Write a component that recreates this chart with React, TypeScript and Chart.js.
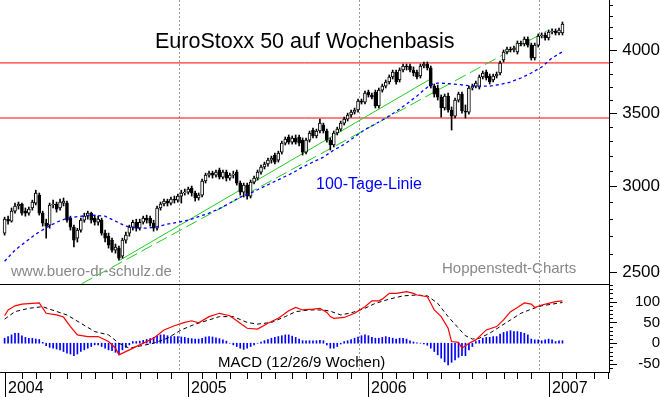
import React, { useEffect, useRef } from 'react';
import { Chart, registerables } from 'chart.js';

Chart.register(...registerables);

const FONT = '"Liberation Sans", Arial, Helvetica, sans-serif';
const FIRST_WEEK = Date.UTC(2003, 11, 29); // Monday of the first weekly candle
const DAY_MS = 86400000;

// ---- weekly candles (index 0 = week of 29 Dec 2003) ----
const opens = [
  2716, 2797, 2785, 2845, 2876, 2888, 2845, 2833, 2864, 2894,
  2943, 2833, 2774, 2762, 2882, 2888, 2864, 2894, 2894, 2803,
  2750, 2687, 2733, 2791, 2815, 2833, 2803, 2779, 2791, 2716,
  2698, 2676, 2620, 2631, 2587, 2676, 2716, 2750, 2779, 2744,
  2779, 2803, 2803, 2774, 2744, 2864, 2888, 2906, 2894, 2918,
  2912, 2937, 2956, 2962, 2987, 2956, 2925, 2943, 3032, 3070,
  3083, 3070, 3103, 3057, 3090, 3051, 3070, 3090, 3019, 2962,
  3006, 2937, 3025, 3051, 3090, 3123, 3143, 3169, 3203, 3169,
  3223, 3285, 3328, 3292, 3321, 3328, 3306, 3223, 3306, 3377,
  3335, 3370, 3413, 3370, 3306, 3272, 3356, 3384, 3427, 3456,
  3486, 3508, 3523, 3591, 3583, 3659, 3637, 3659, 3553, 3675,
  3706, 3738, 3778, 3818, 3754, 3834, 3867, 3867, 3834, 3818,
  3786, 3867, 3883, 3851, 3706, 3691, 3621, 3538, 3629, 3523,
  3478, 3598, 3644, 3516, 3508, 3691, 3706, 3698, 3778, 3818,
  3786, 3754, 3786, 3810, 3916, 3983, 4008, 4000, 3983, 4059,
  4051, 4094, 4042, 3933, 4042, 4120, 4129, 4103, 4155, 4164,
  4147, 4147,
];
const highs = [
  2809, 2815, 2864, 2894, 2900, 2894, 2864, 2870, 2912, 2974,
  2956, 2845, 2797, 2894, 2912, 2900, 2918, 2925, 2906, 2815,
  2762, 2744, 2803, 2833, 2845, 2839, 2821, 2815, 2803, 2733,
  2716, 2687, 2654, 2642, 2687, 2721, 2762, 2791, 2797, 2797,
  2815, 2821, 2815, 2791, 2876, 2900, 2918, 2918, 2931, 2937,
  2949, 2974, 2981, 2993, 3000, 2968, 2956, 3045, 3083, 3096,
  3096, 3103, 3116, 3103, 3103, 3083, 3096, 3103, 3032, 3019,
  3019, 3038, 3064, 3103, 3136, 3156, 3183, 3196, 3216, 3230,
  3299, 3328, 3342, 3335, 3342, 3342, 3321, 3321, 3370, 3391,
  3384, 3456, 3427, 3384, 3321, 3370, 3398, 3442, 3471, 3500,
  3523, 3538, 3606, 3606, 3667, 3675, 3652, 3675, 3691, 3722,
  3754, 3794, 3834, 3834, 3851, 3883, 3883, 3883, 3859, 3834,
  3883, 3900, 3900, 3867, 3722, 3714, 3637, 3644, 3652, 3546,
  3614, 3659, 3659, 3561, 3706, 3722, 3746, 3794, 3826, 3834,
  3802, 3802, 3818, 3908, 4000, 4025, 4025, 4034, 4077, 4077,
  4112, 4112, 4059, 4059, 4138, 4147, 4147, 4173, 4182, 4182,
  4190, 4244,
];
const lows = [
  2704, 2768, 2779, 2833, 2857, 2821, 2815, 2821, 2851, 2882,
  2821, 2756, 2687, 2744, 2864, 2839, 2851, 2876, 2779, 2733,
  2637, 2665, 2721, 2779, 2797, 2774, 2762, 2762, 2704, 2665,
  2631, 2609, 2603, 2565, 2576, 2659, 2698, 2733, 2727, 2733,
  2768, 2774, 2756, 2727, 2733, 2851, 2876, 2876, 2882, 2894,
  2900, 2894, 2943, 2949, 2937, 2906, 2912, 2931, 3019, 3057,
  3051, 3057, 3045, 3045, 3032, 3038, 3051, 3006, 2943, 2931,
  2918, 2925, 3013, 3038, 3077, 3110, 3129, 3149, 3143, 3156,
  3210, 3272, 3278, 3278, 3278, 3265, 3203, 3210, 3292, 3321,
  3321, 3356, 3356, 3292, 3237, 3258, 3342, 3370, 3413, 3442,
  3471, 3493, 3508, 3568, 3568, 3621, 3606, 3538, 3538, 3659,
  3691, 3722, 3762, 3722, 3738, 3818, 3834, 3818, 3786, 3762,
  3770, 3851, 3834, 3691, 3621, 3598, 3471, 3523, 3508, 3377,
  3464, 3583, 3500, 3464, 3493, 3675, 3691, 3683, 3762, 3754,
  3722, 3738, 3770, 3794, 3900, 3966, 3983, 3983, 3966, 4034,
  4034, 4025, 3916, 3916, 4025, 4103, 4085, 4085, 4138, 4129,
  4129, 4129,
];
const closes = [
  2797, 2785, 2845, 2876, 2888, 2833, 2833, 2857, 2900, 2956,
  2833, 2774, 2756, 2882, 2888, 2857, 2900, 2906, 2791, 2750,
  2676, 2733, 2791, 2815, 2833, 2791, 2779, 2797, 2716, 2687,
  2648, 2620, 2637, 2576, 2676, 2704, 2750, 2779, 2744, 2779,
  2803, 2791, 2774, 2744, 2864, 2888, 2906, 2894, 2918, 2912,
  2937, 2956, 2962, 2981, 2956, 2925, 2943, 3032, 3070, 3083,
  3070, 3090, 3057, 3090, 3051, 3070, 3077, 3019, 2962, 3006,
  2937, 3025, 3051, 3090, 3123, 3143, 3169, 3183, 3156, 3216,
  3285, 3313, 3292, 3321, 3292, 3285, 3223, 3306, 3356, 3335,
  3370, 3427, 3370, 3306, 3272, 3356, 3384, 3427, 3456, 3486,
  3508, 3523, 3591, 3583, 3652, 3637, 3621, 3553, 3675, 3706,
  3738, 3778, 3818, 3738, 3834, 3867, 3859, 3834, 3810, 3778,
  3867, 3883, 3851, 3706, 3644, 3621, 3538, 3629, 3523, 3478,
  3598, 3644, 3516, 3508, 3691, 3706, 3730, 3778, 3810, 3770,
  3738, 3786, 3802, 3891, 3983, 4008, 4000, 4017, 4059, 4051,
  4094, 4042, 3933, 4042, 4120, 4129, 4103, 4155, 4164, 4147,
  4173, 4226,
];

// ---- 100-day moving average (read at these week indices) ----
const ma100Weeks = [
  0, 3, 6, 9, 12, 15, 18, 21, 25, 29, 32, 35, 38, 41, 44, 47, 50, 53, 56, 59,
  62, 65, 68, 71, 74, 77, 80, 83, 86, 89, 92, 95, 98, 101, 104, 107, 110, 113, 116, 119,
  121, 123, 125, 128, 131, 134, 137, 140, 143, 146, 149, 152, 155, 158, 161,
];
const ma100Values = [
  2559, 2620, 2665, 2710, 2747, 2779, 2803, 2812, 2821, 2815, 2785, 2756, 2744, 2744, 2753, 2768, 2779, 2791, 2812, 2833,
  2860, 2894, 2931, 2956, 2987, 3019, 3051, 3083, 3123, 3156, 3189, 3237, 3276, 3328, 3381, 3420, 3464, 3512, 3568, 3629,
  3675, 3718, 3730, 3726, 3718, 3710, 3706, 3706, 3718, 3738, 3770, 3810, 3859, 3933, 3985,
];

// ---- trend channel (week index / price) ----
const trendUpperWeeks = [33.3, 123.4];
const trendUpperValues = [2565, 3770];
const trendLowerWeeks = [22.25, 156.45];
const trendLowerValues = [2440, 4164];

// ---- horizontal resistance / support levels ----
const levelValues = [3892, 3464];

// ---- MACD (12/26/9) ----
const macdWeeks = [
  0, 1, 3, 5, 8, 10, 12, 15, 17, 19, 21, 24, 27, 30, 32, 33, 36, 39, 43, 46,
  49, 52, 54, 56, 59, 62, 65, 68, 70, 73, 76, 79, 82, 84, 86, 89, 91, 93, 94, 95,
  98, 101, 104, 106, 108, 109, 111, 113, 116, 118, 119, 122, 123, 124, 126, 128, 129, 131, 132, 134,
  136, 139, 142, 144, 146, 148, 150, 152, 153, 155, 157, 159, 161,
];
const macdValues = [
  66, 80, 90, 94, 96, 97, 72, 68, 63, 40, 20, 16, 16, 4, -12, -28, -16, -4, 12, 32,
  42, 50, 54, 49, 64, 72, 66, 48, 36, 34, 48, 60, 78, 86, 80, 82, 84, 74, 64, 60,
  62, 72, 88, 102, 102, 106, 120, 120, 124, 120, 116, 112, 96, 80, 64, 36, 4, 2, -12, 0,
  8, 32, 40, 56, 76, 86, 97, 94, 86, 92, 96, 100, 102,
];
const signalWeeks = [
  0, 3, 7, 11, 13, 18, 22, 26, 30, 33, 36, 39, 43, 47, 51, 55, 59, 62, 66, 70,
  73, 77, 81, 84, 88, 92, 94, 97, 100, 104, 107, 111, 115, 119, 122, 125, 128, 131, 133, 135,
  137, 140, 143, 146, 149, 152, 155, 158, 161,
];
const signalValues = [
  58, 76, 84, 88, 82, 68, 48, 28, 20, 0, -12, -7, 0, 12, 32, 46, 56, 64, 64, 50,
  46, 50, 64, 76, 80, 80, 77, 68, 73, 84, 96, 106, 114, 116, 114, 96, 64, 36, 18, 10,
  12, 24, 40, 56, 72, 82, 90, 94, 98,
];
const histogram = [
  12, 16, 20, 24, 24, 18, 14, 12, 12, 10,
  9, 2, -6, -10, -12, -14, -16, -20, -24, -26,
  -30, -26, -20, -16, -12, -8, -4, -4, -8, -12,
  -16, -18, -22, -25, -16, -10, -4, 4, 4, 5,
  7, 9, 11, 14, 17, 20, 20, 18, 16, 16,
  16, 15, 14, 12, 11, 10, 10, 12, 15, 16,
  15, 13, 11, 8, 5, 0, -4, -8, -12, -15,
  -12, -8, -4, 0, 3, 6, 9, 12, 14, 16,
  18, 20, 20, 17, 14, 10, 6, 6, 6, 6,
  6, 7, 6, -4, -12, -12, -8, -2, 4, 6,
  9, 12, 15, 18, 20, 18, 14, 12, 12, 14,
  16, 14, 12, 10, 12, 12, 10, 6, 3, 1,
  0, -2, -5, -12, -20, -28, -36, -45, -52, -46,
  -40, -34, -30, -30, -16, -8, 4, 7, 12, 14,
  14, 16, 16, 22, 26, 28, 30, 28, 28, 26,
  24, 20, 10, 8, 8, 6, 8, 10, 8, 4,
  6, 6,
];

// ---- axes ----
const priceLabels = [2500, 3000, 3500, 4000];
const macdLabels = [-50, 0, 50, 100];
const yearLabels = ['2004', '2005', '2006', '2007'];

const X_MIN = -1.33;
const X_MAX = 174.43;
const PRICE_MIN = 2438.7;
const PRICE_MAX = 4446;
const MACD_MIN = -69.3;
const MACD_MAX = 142.5;

const priceMinorTicks: number[] = [];
for (let v = 2500; v <= 4400; v += 100) priceMinorTicks.push(v);
const macdMinorTicks: number[] = [];
for (let v = -60; v <= 140; v += 10) macdMinorTicks.push(v);

// month ticks: week that holds the first weekday of each month
type MonthTick = { value: number; year: boolean; label: string };
const monthTicks: MonthTick[] = [];
yearLabels.forEach((yl) => {
  const yr = Number(yl);
  for (let mo = 0; mo < 12; mo++) {
    let d = Date.UTC(yr, mo, 1);
    while (new Date(d).getUTCDay() === 0 || new Date(d).getUTCDay() === 6) d += DAY_MS;
    const w = Math.floor((d - FIRST_WEEK) / (7 * DAY_MS));
    if (w >= X_MIN && w <= X_MAX) monthTicks.push({ value: w, year: mo === 0, label: yl });
  }
});
const yearTickValues = monthTicks.filter((t) => t.year).map((t) => t.value);

const decorPlugin = {
  id: 'decor',
  afterDraw(chart: any) {
    const { ctx, chartArea } = chart;
    const xs = chart.scales.x;
    const ys = chart.scales.y;
    const ms = chart.scales.macd;
    ctx.save();
    ctx.strokeStyle = '#000';
    ctx.lineWidth = 1;
    const seg = (x1: number, y1: number, x2: number, y2: number) => {
      ctx.beginPath();
      ctx.moveTo(x1, y1);
      ctx.lineTo(x2, y2);
      ctx.stroke();
    };
    // panel divider
    const yDiv = Math.round(ys.bottom) + 0.5;
    seg(chartArea.left, yDiv, chartArea.right + 1, yDiv);
    // y tick marks
    const axisX = Math.round(ys.left);
    priceMinorTicks.forEach((v) => {
      const py = Math.round(ys.getPixelForValue(v)) + 0.5;
      seg(axisX, py, axisX + (priceLabels.includes(v) ? 8 : 4), py);
    });
    macdMinorTicks.forEach((v) => {
      const py = Math.round(ms.getPixelForValue(v)) + 0.5;
      seg(axisX, py, axisX + (macdLabels.includes(v) ? 8 : 4), py);
    });
    // x tick marks and year labels
    const axisY = Math.round(xs.top);
    ctx.fillStyle = '#000';
    ctx.font = `16px ${FONT}`;
    ctx.textAlign = 'left';
    ctx.textBaseline = 'alphabetic';
    monthTicks.forEach((t) => {
      const px = Math.round(xs.getPixelForValue(t.value)) + 0.5;
      seg(px, axisY, px, t.year ? chart.height : axisY + 7);
      if (t.year) ctx.fillText(t.label, px + 2.5, axisY + 21);
    });
    // annotations
    ctx.font = `21.5px ${FONT}`;
    ctx.fillStyle = '#000';
    ctx.fillText('EuroStoxx 50 auf Wochenbasis', 155, 48);
    ctx.font = `16px ${FONT}`;
    ctx.fillStyle = '#0000ff';
    ctx.fillText('100-Tage-Linie', 316, 189);
    ctx.font = `15px ${FONT}`;
    ctx.fillStyle = '#888888';
    ctx.fillText('www.buero-dr-schulz.de', 11, 276);
    ctx.fillText('Hoppenstedt-Charts', 442, 273);
    ctx.fillStyle = '#000';
    ctx.fillText('MACD (12/26/9 Wochen)', 218, 367);
    ctx.restore();
  },
};

const fixWidth = (scale: any) => {
  scale.width = 51;
  scale.paddingTop = 0;
  scale.paddingBottom = 0;
  scale.paddingLeft = 0;
  scale.paddingRight = 0;
};

export default function App() {
  const ref = useRef<HTMLCanvasElement>(null);
  useEffect(() => {
    if (!ref.current) return;
    const weeks = closes.map((_, i) => i);
    const wickData = weeks.map((i) => ({ x: i, y: [lows[i], highs[i]] }));
    const bodyData = weeks.map((i) => ({ x: i, y: [Math.min(opens[i], closes[i]), Math.max(opens[i], closes[i])] }));
    const bodyColors = weeks.map((i) => (closes[i] >= opens[i] ? '#ffffff' : '#000000'));
    const histData = histogram.map((v, i) => ({ x: i, y: [0, v] }));

    const chart = new Chart(ref.current, {
      type: 'line',
      data: {
        datasets: [
          {
            type: 'line',
            data: ma100Weeks.map((w, i) => ({ x: w, y: ma100Values[i] })),
            borderColor: '#0000ff',
            borderWidth: 1.3,
            borderDash: [3, 3],
            pointRadius: 0,
            yAxisID: 'y',
            order: 1,
          },
          {
            type: 'bar',
            data: bodyData as any,
            backgroundColor: bodyColors,
            borderColor: '#000',
            borderWidth: 1,
            borderSkipped: false,
            barThickness: 3,
            grouped: false,
            yAxisID: 'y',
            order: 2,
          },
          {
            type: 'bar',
            data: wickData as any,
            backgroundColor: '#000',
            borderWidth: 0,
            barThickness: 1,
            grouped: false,
            yAxisID: 'y',
            order: 3,
          },
          {
            type: 'line',
            data: trendUpperWeeks.map((w, i) => ({ x: w, y: trendUpperValues[i] })),
            borderColor: '#22cc22',
            borderWidth: 1,
            pointRadius: 0,
            yAxisID: 'y',
            order: 4,
          },
          {
            type: 'line',
            data: trendLowerWeeks.map((w, i) => ({ x: w, y: trendLowerValues[i] })),
            borderColor: '#22cc22',
            borderWidth: 1,
            borderDash: [12, 5],
            pointRadius: 0,
            yAxisID: 'y',
            order: 4,
          },
          ...levelValues.map((v) => ({
            type: 'line' as const,
            data: [{ x: X_MIN, y: v }, { x: X_MAX, y: v }],
            borderColor: '#ff0000',
            borderWidth: 1,
            pointRadius: 0,
            yAxisID: 'y',
            order: 5,
          })),
          {
            type: 'line',
            data: macdWeeks.map((w, i) => ({ x: w, y: macdValues[i] })),
            borderColor: '#ff0000',
            borderWidth: 1.2,
            pointRadius: 0,
            yAxisID: 'macd',
            order: 1,
          },
          {
            type: 'line',
            data: signalWeeks.map((w, i) => ({ x: w, y: signalValues[i] })),
            borderColor: '#000',
            borderWidth: 1,
            borderDash: [4, 3],
            pointRadius: 0,
            yAxisID: 'macd',
            order: 2,
          },
          {
            type: 'bar',
            data: histData as any,
            backgroundColor: '#0000ff',
            borderWidth: 0,
            barThickness: 1,
            grouped: false,
            yAxisID: 'macd',
            order: 3,
          },
        ] as any,
      },
      options: {
        animation: false,
        responsive: false,
        maintainAspectRatio: false,
        devicePixelRatio: 1,
        events: [],
        layout: { padding: 0 },
        plugins: { legend: { display: false }, tooltip: { enabled: false }, title: { display: false } },
        scales: {
          x: {
            type: 'linear',
            position: 'bottom',
            min: X_MIN,
            max: X_MAX,
            offset: false,
            afterBuildTicks: (s: any) => {
              s.ticks = monthTicks.map((t) => ({ value: t.value }));
            },
            afterFit: (s: any) => {
              s.height = 25;
              s.paddingLeft = 0;
              s.paddingRight = 0;
            },
            ticks: { display: false },
            grid: {
              display: true,
              drawOnChartArea: true,
              drawTicks: false,
              lineWidth: 1,
              color: (c: any) => (c.tick && yearTickValues.includes(c.tick.value) ? '#9a9a9a' : 'rgba(0,0,0,0)'),
            },
            border: { display: true, color: '#000', width: 1, dash: [2, 2] },
          },
          y: {
            type: 'logarithmic',
            position: 'right',
            stack: 'panels',
            stackWeight: 284,
            min: PRICE_MIN,
            max: PRICE_MAX,
            afterBuildTicks: (s: any) => {
              s.ticks = priceLabels.map((v) => ({ value: v }));
            },
            afterFit: fixWidth,
            ticks: {
              callback: (v: any) => String(v),
              color: '#000',
              font: { family: FONT, size: 17 },
              padding: 10,
              crossAlign: 'far',
              autoSkip: false,
            },
            grid: { display: false, drawTicks: false },
            border: { display: true, color: '#000', width: 1 },
          },
          macd: {
            type: 'linear',
            position: 'right',
            stack: 'panels',
            stackWeight: 88,
            min: MACD_MIN,
            max: MACD_MAX,
            afterBuildTicks: (s: any) => {
              s.ticks = macdLabels.map((v) => ({ value: v }));
            },
            afterFit: fixWidth,
            ticks: {
              callback: (v: any) => String(v),
              color: '#000',
              font: { family: FONT, size: 15 },
              padding: 21,
              crossAlign: 'far',
              autoSkip: false,
            },
            grid: { display: false, drawTicks: false },
            border: { display: true, color: '#000', width: 1 },
          },
        } as any,
      },
      plugins: [decorPlugin],
    });
    return () => chart.destroy();
  }, []);

  return (
    <div style={{ position: 'absolute', left: 0, top: 0, width: 660, height: 397, background: '#fff' }}>
      <canvas ref={ref} width={660} height={397} style={{ display: 'block', width: 660, height: 397 }} />
    </div>
  );
}
